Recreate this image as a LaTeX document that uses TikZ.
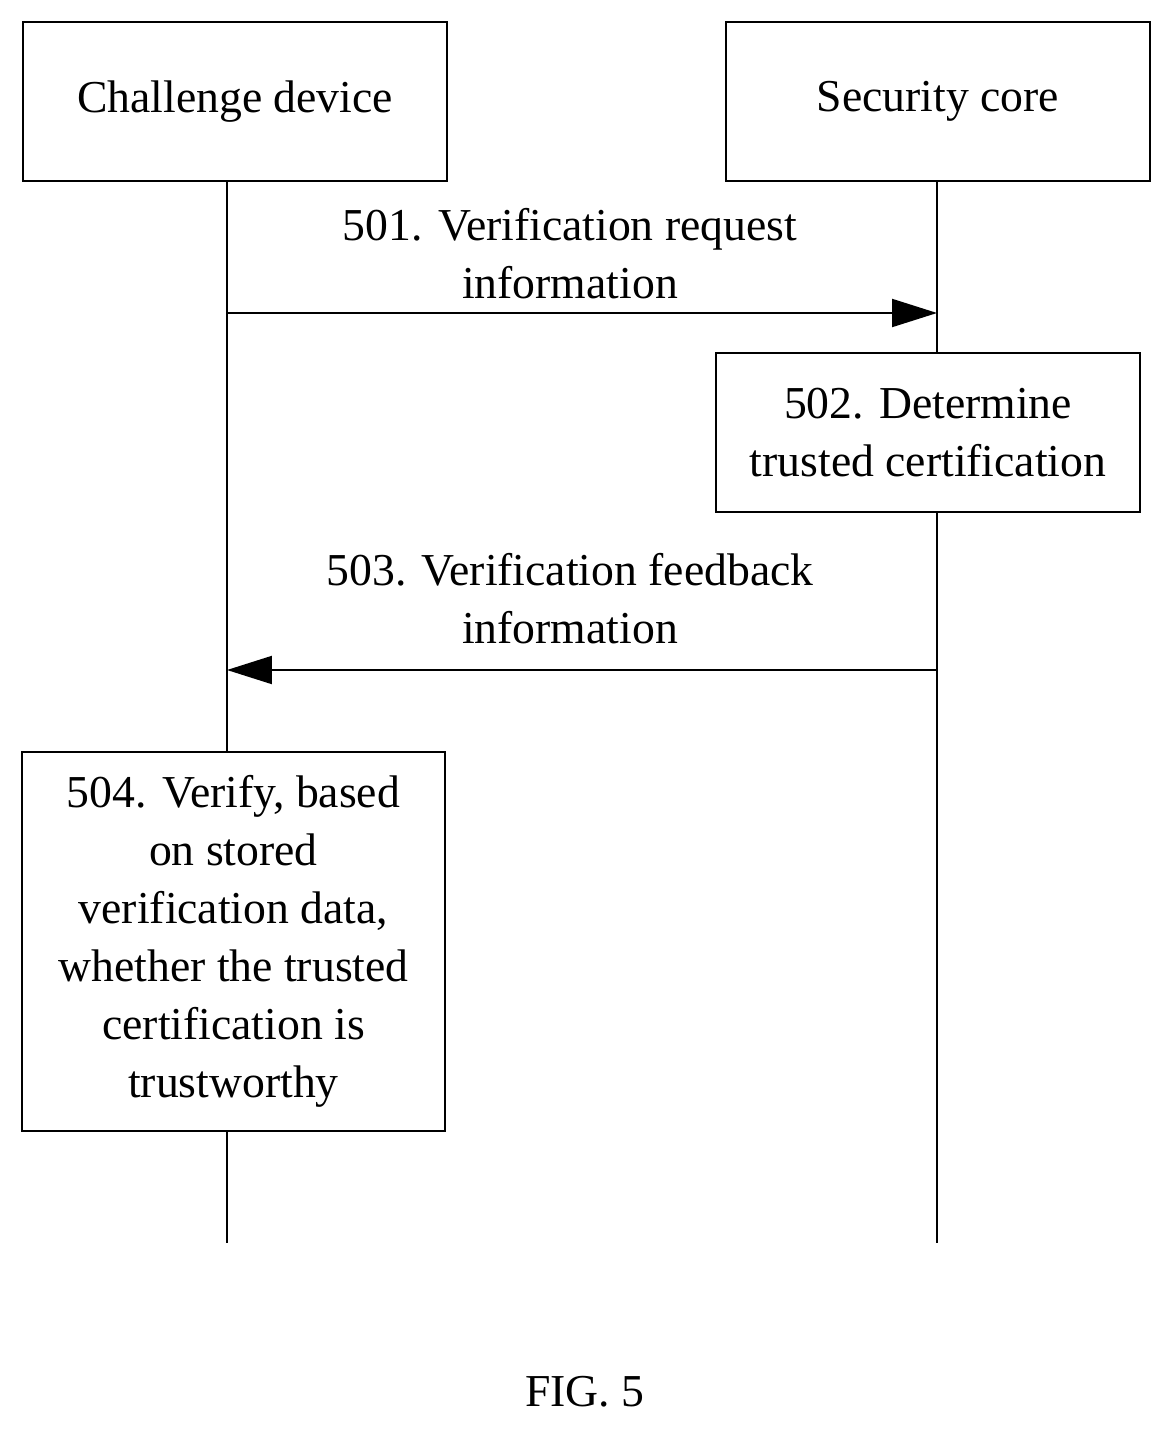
\documentclass[tikz,border=0pt]{standalone}
\usepackage{fontspec}
\setmainfont{Liberation Serif}
\usetikzlibrary{arrows.meta}
\begin{document}
\begin{tikzpicture}[
    x=0.02cm, y=-0.02cm,
    box/.style={draw, line width=1.2pt, minimum width=8.48cm, minimum height=3.18cm, align=center, font=\fontsize{26}{33}\selectfont},
    msg/.style={-{Triangle[length=0.9cm,width=0.56cm]}, line width=1.2pt},
    life/.style={line width=1.2pt},
    lbl/.style={align=center, font=\fontsize{26}{33}\selectfont}
]
    \useasboundingbox (0,0) rectangle (1172,1429);

    % Participants
    \node[box] (dev) at (235,101.5) {Challenge device};
    \node[box] (core) at (938,101.5) {Security core};

    % Lifeline ends
    \coordinate (devend) at (227,1243);
    \coordinate (coreend) at (937,1243);
    \coordinate (d1) at (227,313);
    \coordinate (c1) at (937,313);
    \coordinate (d3) at (227,670);
    \coordinate (c3) at (937,670);

    % Steps
    \node[box] (det) at (928,432.5) {502. Determine\\trusted certification};
    \node[box, minimum width=8.46cm, minimum height=7.58cm] (ver) at (233.5,941.5)
        {504. Verify, based\\on stored\\verification data,\\whether the trusted\\certification is\\trustworthy};

    % Lifelines
    \draw[life] (dev.south -| d1) -- (ver.north -| d1);
    \draw[life] (ver.south -| d1) -- (devend);
    \draw[life] (core.south -| c1) -- (det.north -| c1);
    \draw[life] (det.south -| c1) -- (coreend);

    % Messages
    \draw[msg] (d1) -- (c1);
    \node[lbl] (m1) at (570,254) {501. Verification request\\information};
    \draw[msg] (c3) -- (d3);
    \node[lbl] (m3) at (570,599) {503. Verification feedback\\information};

    \node[lbl] (fig) at (585,1392) {FIG. 5};
\end{tikzpicture}
\end{document}
